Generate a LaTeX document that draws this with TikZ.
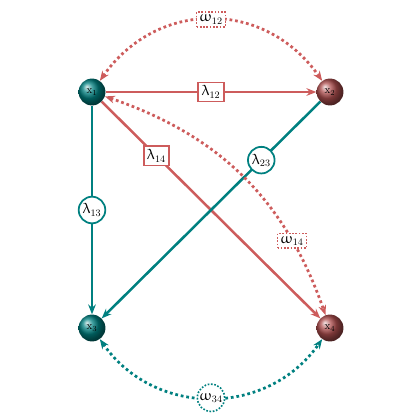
\documentclass[tikz,border=0pt]{standalone}
\usepackage{upgreek}
\usetikzlibrary{arrows.meta,shapes.geometric}
\definecolor{tealc}{RGB}{0,128,128}
\definecolor{redc}{RGB}{205,92,92}
\begin{document}
\begin{tikzpicture}[x=0.032cm,y=-0.032cm,
  ballT/.style={circle,minimum size=0.86cm,inner sep=0pt,ball color=tealc,text=black,font=\normalsize},
  ballR/.style={circle,minimum size=0.86cm,inner sep=0pt,ball color=redc!85!black,text=black,font=\normalsize},
  tip/.style={-{Stealth[length=9pt,width=7pt]}},
  tips/.style={{Stealth[length=9pt,width=7pt]}-{Stealth[length=9pt,width=7pt]}},
  redline/.style={draw=redc,line width=2.3pt,tip},
  tealline/.style={draw=tealc,line width=2.3pt,tip},
  reddot/.style={draw=redc,line width=2.5pt,dash pattern=on 2.5pt off 2.6pt,tips},
  tealdot/.style={draw=tealc,line width=2.5pt,dash pattern=on 2.5pt off 2.6pt,tips},
  lbl/.style={font=\fontsize{13.5}{15}\selectfont},
  redbox/.style={lbl,rectangle,draw=redc,line width=1.6pt,fill=white,inner sep=3pt,solid},
  tealcirc/.style={lbl,circle,draw=tealc,line width=1.6pt,fill=white,inner sep=1.3pt,solid},
  redwbox/.style={lbl,rectangle,draw=redc,line width=1.5pt,fill=white,inner sep=2.5pt,dash pattern=on 1.5pt off 1.5pt},
  tealwcirc/.style={lbl,circle,draw=tealc,line width=1.5pt,fill=white,inner sep=0.8pt,dash pattern=on 1.5pt off 1.5pt},
]
\useasboundingbox (0,0) rectangle (420,420);
\node[ballT] (n1) at (92,92) {x$_1$};
\node[ballR] (n2) at (330,92) {x$_2$};
\node[ballT] (n3) at (92,328) {x$_3$};
\node[ballR] (n4) at (330,328) {x$_4$};
\draw[redline] (n1) -- node[redbox]{$\uplambda_{12}$} (n2);
\draw[redline] (n1) -- node[redbox,pos=0.25]{$\uplambda_{14}$} (n4);
\draw[tealline] (n2) -- node[tealcirc,pos=0.27]{$\uplambda_{23}$} (n3);
\draw[tealline] (n1) -- node[tealcirc]{$\uplambda_{13}$} (n3);
\draw[reddot] (n1) to[bend left=55,looseness=1.15] node[redwbox]{$\upomega_{12}$} (n2);
\draw[reddot] (n1) to[bend left=26] node[redwbox,pos=0.76]{$\upomega_{14}$} (n4);
\draw[tealdot] (n3) to[bend right=55,looseness=1.1] node[tealwcirc]{$\upomega_{34}$} (n4);
\end{tikzpicture}
\end{document}
